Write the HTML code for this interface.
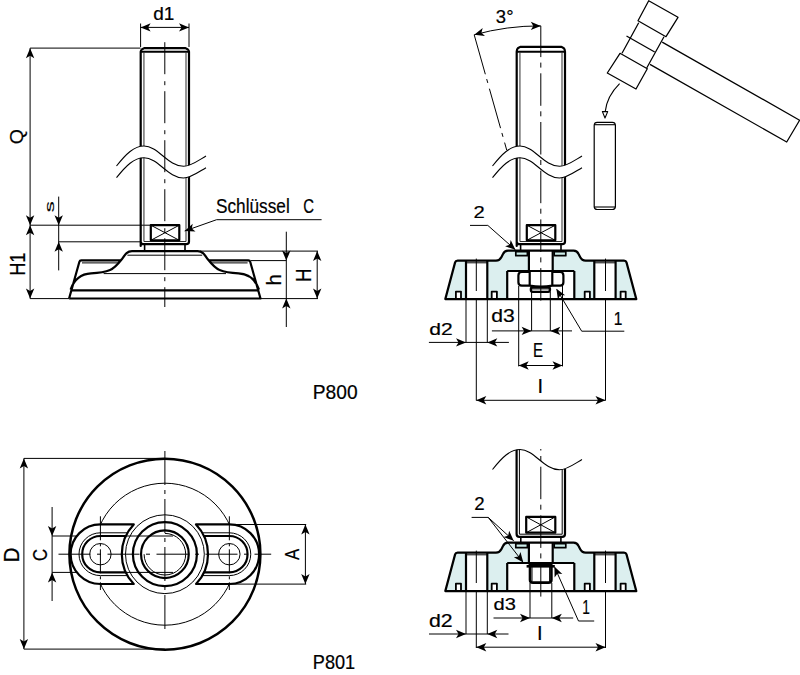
<!DOCTYPE html>
<html><head><meta charset="utf-8"><style>
html,body{margin:0;padding:0;background:#fff;}
svg{display:block;}
text{font-family:"Liberation Sans",sans-serif;fill:#000;stroke:#000;stroke-width:0.22px;}
</style></head><body>
<svg width="800" height="675" viewBox="0 0 800 675" stroke-linecap="butt" stroke-linejoin="round">
<line x1="140.60" y1="23.50" x2="140.60" y2="47.00" stroke="#000" stroke-width="1.0" />
<line x1="189.00" y1="23.50" x2="189.00" y2="47.00" stroke="#000" stroke-width="1.0" />
<line x1="140.60" y1="27.40" x2="189.00" y2="27.40" stroke="#000" stroke-width="1.0" />
<polygon points="140.60,27.40 150.60,23.20 148.10,27.40 150.60,31.60" fill="#000"/>
<polygon points="189.00,27.40 179.00,31.60 181.50,27.40 179.00,23.20" fill="#000"/>
<text transform="translate(153.24,19.81) scale(0.9510,0.9388)" font-size="20">d1</text>
<line x1="30.10" y1="48.10" x2="140.60" y2="48.10" stroke="#000" stroke-width="1.0" />
<line x1="30.10" y1="48.10" x2="30.10" y2="298.60" stroke="#000" stroke-width="1.0" />
<polygon points="30.10,48.30 34.30,58.30 30.10,55.80 25.90,58.30" fill="#000"/>
<polygon points="30.10,225.20 25.90,215.20 30.10,217.70 34.30,215.20" fill="#000"/>
<polygon points="30.10,225.20 34.30,235.20 30.10,232.70 25.90,235.20" fill="#000"/>
<polygon points="30.10,298.60 25.90,288.60 30.10,291.10 34.30,288.60" fill="#000"/>
<text transform="translate(22.81,144.28) rotate(-90) scale(0.9781,0.8933)" font-size="20">Q</text>
<text transform="translate(25.00,275.85) rotate(-90) scale(0.9083,1.0652)" font-size="20">H1</text>
<line x1="30.10" y1="225.20" x2="150.80" y2="225.20" stroke="#000" stroke-width="1.0" />
<line x1="30.10" y1="298.60" x2="69.30" y2="298.60" stroke="#000" stroke-width="1.0" />
<line x1="58.70" y1="196.60" x2="58.70" y2="270.40" stroke="#000" stroke-width="1.0" />
<polygon points="58.70,225.20 54.50,215.20 58.70,217.70 62.90,215.20" fill="#000"/>
<polygon points="58.70,241.80 62.90,251.80 58.70,249.30 54.50,251.80" fill="#000"/>
<line x1="58.70" y1="241.80" x2="140.60" y2="241.80" stroke="#000" stroke-width="1.0" />
<text transform="translate(53.87,212.16) rotate(-90) scale(1.1034,0.6606)" font-size="20">s</text>
<g transform="translate(0,0)">
<path d="M140.7,246 L140.7,51.6 Q140.9,50.20 141.8,49.50 L144.2,48.10 L185.5,48.10 L187.9,49.50 Q188.8,50.20 189,51.6 L189,241.5 Q189,244.2 186.2,244.2 L143.5,244.2 Q140.7,244.2 140.7,241.5 Z" fill="none" stroke="#000" stroke-width="2.2" />
<line x1="140.70" y1="51.70" x2="189.00" y2="51.70" stroke="#000" stroke-width="2.0" />
<path d="M143.95,241.5 L143.95,52.5 M186.0,52.5 L186.0,241.5 M143.95,241.5 L186.0,241.5" fill="none" stroke="#222" stroke-width="0.95" />
<path d="M116.5,166 C126,154 134,146 144,146 C158,146 168,166.3 183.5,166.3 C191,166.3 199,160 206,156 L206,167.7 C199,171.7 191,178 183.5,178 C168,178 158,157.7 144,157.7 C134,157.7 126,165.7 116.5,177.7 Z" fill="#fff" stroke="none" stroke-width="0" />
<path d="M116.5,166 C126,154 134,146 144,146 C158,146 168,166.3 183.5,166.3 C191,166.3 199,160 206,156" fill="none" stroke="#000" stroke-width="1.1" />
<path d="M116.5,177.7 C126,165.7 134,157.7 144,157.7 C158,157.7 168,178 183.5,178 C191,178 199,171.7 206,167.7" fill="none" stroke="#000" stroke-width="1.1" />
<rect x="150.8" y="225.2" width="28.5" height="15.1" fill="#fff" stroke="#000" stroke-width="2.2"/>
<line x1="150.80" y1="225.20" x2="179.30" y2="240.30" stroke="#000" stroke-width="1.0" />
<line x1="150.80" y1="240.30" x2="179.30" y2="225.20" stroke="#000" stroke-width="1.0" />
<line x1="144.60" y1="244.00" x2="144.60" y2="251.00" stroke="#000" stroke-width="1.6" />
<line x1="185.00" y1="244.00" x2="185.00" y2="251.00" stroke="#000" stroke-width="1.6" />
</g>
<line x1="216.60" y1="219.70" x2="321.60" y2="219.70" stroke="#000" stroke-width="1.0" />
<line x1="216.60" y1="219.70" x2="184.70" y2="231.00" stroke="#000" stroke-width="1.0" />
<polygon points="184.70,231.00 192.72,223.70 191.77,228.50 195.53,231.62" fill="#000"/>
<text transform="translate(216.03,213.00) scale(0.8609,1.0000)" font-size="20">Schlüssel</text>
<text transform="translate(303.25,212.99) scale(0.7460,1.0352)" font-size="20">C</text>
<path d="M69.1,298.5 L79.4,261.8 Q79.8,260.4 81.2,260.4 L120.7,260.4 M70.6,289.5 C74,280 80,274 91,273.4 C98,273 104,272.5 110,270 C115,268 118,264 122,259 C125,254.7 127,251.2 132,251.2 L197.6,251.2 C202.6,251.2 204.6,254.7 207.6,259 C211.6,264 214.6,268 219.6,270 C225.6,272.5 231.6,273 238.6,273.4 C249.6,274 255.6,280 259,289.5 M209,260.4 L248.4,260.4 Q249.8,260.4 250.2,261.8 L260.5,298.5 L69.1,298.5" fill="none" stroke="#000" stroke-width="2.2" />
<line x1="71.50" y1="290.30" x2="258.10" y2="290.30" stroke="#000" stroke-width="2.2" />
<line x1="82.00" y1="262.90" x2="118.50" y2="262.90" stroke="#000" stroke-width="1.0" />
<line x1="211.20" y1="262.90" x2="247.60" y2="262.90" stroke="#000" stroke-width="1.0" />
<line x1="103.60" y1="273.60" x2="226.00" y2="273.60" stroke="#000" stroke-width="1.0" />
<line x1="127.40" y1="255.20" x2="202.20" y2="255.20" stroke="#000" stroke-width="1.0" />
<line x1="164.80" y1="42.20" x2="164.80" y2="307.00" stroke="#000" stroke-width="1.0" stroke-dasharray="32 7 4 6" stroke-dashoffset="0"/>
<line x1="286.30" y1="231.70" x2="286.30" y2="327.00" stroke="#000" stroke-width="1.0" />
<polygon points="286.30,260.60 282.10,250.60 286.30,253.10 290.50,250.60" fill="#000"/>
<polygon points="286.30,298.60 290.50,308.60 286.30,306.10 282.10,308.60" fill="#000"/>
<line x1="200.00" y1="251.10" x2="318.00" y2="251.10" stroke="#000" stroke-width="1.0" />
<line x1="250.70" y1="260.60" x2="286.30" y2="260.60" stroke="#000" stroke-width="1.0" />
<line x1="260.70" y1="298.60" x2="318.00" y2="298.60" stroke="#000" stroke-width="1.0" />
<line x1="317.20" y1="251.10" x2="317.20" y2="298.60" stroke="#000" stroke-width="1.0" />
<polygon points="317.20,251.10 321.40,261.10 317.20,258.60 313.00,261.10" fill="#000"/>
<polygon points="317.20,298.60 313.00,288.60 317.20,291.10 321.40,288.60" fill="#000"/>
<text transform="translate(280.80,285.52) rotate(-90) scale(1.0119,1.0276)" font-size="20">h</text>
<text transform="translate(311.40,282.00) rotate(-90) scale(0.9375,1.0797)" font-size="20">H</text>
<text transform="translate(312.77,398.80) scale(0.9594,1.0000)" font-size="20">P800</text>
<g transform="translate(376,0)">
<path d="M140.7,246 L140.7,51.6 Q140.9,49.00 141.8,48.30 L144.2,46.90 L185.5,46.90 L187.9,48.30 Q188.8,49.00 189,51.6 L189,241.5 Q189,244.2 186.2,244.2 L143.5,244.2 Q140.7,244.2 140.7,241.5 Z" fill="none" stroke="#000" stroke-width="2.2" />
<line x1="140.70" y1="51.70" x2="189.00" y2="51.70" stroke="#000" stroke-width="2.0" />
<path d="M143.95,241.5 L143.95,52.5 M186.0,52.5 L186.0,241.5 M143.95,241.5 L186.0,241.5" fill="none" stroke="#222" stroke-width="0.95" />
<path d="M116.5,166 C126,154 134,146 144,146 C158,146 168,166.3 183.5,166.3 C191,166.3 199,160 206,156 L206,167.7 C199,171.7 191,178 183.5,178 C168,178 158,157.7 144,157.7 C134,157.7 126,165.7 116.5,177.7 Z" fill="#fff" stroke="none" stroke-width="0" />
<path d="M116.5,166 C126,154 134,146 144,146 C158,146 168,166.3 183.5,166.3 C191,166.3 199,160 206,156" fill="none" stroke="#000" stroke-width="1.1" />
<path d="M116.5,177.7 C126,165.7 134,157.7 144,157.7 C158,157.7 168,178 183.5,178 C191,178 199,171.7 206,167.7" fill="none" stroke="#000" stroke-width="1.1" />
<rect x="150.8" y="225.2" width="28.5" height="15.1" fill="#fff" stroke="#000" stroke-width="2.2"/>
<line x1="150.80" y1="225.20" x2="179.30" y2="240.30" stroke="#000" stroke-width="1.0" />
<line x1="150.80" y1="240.30" x2="179.30" y2="225.20" stroke="#000" stroke-width="1.0" />
<line x1="144.60" y1="244.00" x2="144.60" y2="251.00" stroke="#000" stroke-width="1.6" />
<line x1="185.00" y1="244.00" x2="185.00" y2="251.00" stroke="#000" stroke-width="1.6" />
</g>
<g transform="translate(0,0)">
<path d="M445.3,299.1 L455.1,262.4 Q455.6,260.6 457.6,260.6 L496,260.6 C499,260.6 500.5,259 501.5,257 L503,254 C504,251.8 505.5,250.7 508,250.7 L573.6,250.7 C576.1,250.7 577.6,251.8 578.6,254 L580.1,257 C581.1,259 582.6,260.6 585.6,260.6 L624,260.6 Q626,260.6 626.5,262.4 L636.3,299.1 Z" fill="#dcefef" stroke="none"/>
<rect x="466" y="260.6" width="21.3" height="38.5" fill="#fff"/>
<rect x="594.3" y="260.6" width="21.3" height="38.5" fill="#fff"/>
<rect x="455.9" y="291.6" width="5.1" height="7.5" fill="#fff"/>
<rect x="491.7" y="291.6" width="5.2" height="7.5" fill="#fff"/>
<rect x="584.7" y="291.6" width="5.2" height="7.5" fill="#fff"/>
<rect x="620.6" y="291.6" width="5.1" height="7.5" fill="#fff"/>
<rect x="507.2" y="271" width="67.1" height="28.1" fill="#fff"/>
<rect x="528.9" y="250.7" width="23.8" height="20.3" fill="#fff"/>
<path d="M445.3,299.1 L455.1,262.4 Q455.6,260.6 457.6,260.6 L496,260.6 C499,260.6 500.5,259 501.5,257 L503,254 C504,251.8 505.5,250.7 508,250.7 L573.6,250.7 C576.1,250.7 577.6,251.8 578.6,254 L580.1,257 C581.1,259 582.6,260.6 585.6,260.6 L624,260.6 Q626,260.6 626.5,262.4 L636.3,299.1 Z" fill="none" stroke="#000" stroke-width="2.2" />
<line x1="466.00" y1="260.60" x2="466.00" y2="299.10" stroke="#000" stroke-width="2.2" />
<line x1="487.30" y1="260.60" x2="487.30" y2="299.10" stroke="#000" stroke-width="2.2" />
<line x1="466.00" y1="262.80" x2="487.30" y2="262.80" stroke="#000" stroke-width="1.0" />
<line x1="594.30" y1="260.60" x2="594.30" y2="299.10" stroke="#000" stroke-width="2.2" />
<line x1="615.60" y1="260.60" x2="615.60" y2="299.10" stroke="#000" stroke-width="2.2" />
<line x1="594.30" y1="262.80" x2="615.60" y2="262.80" stroke="#000" stroke-width="1.0" />
<path d="M455.9,299.1 L455.9,291.6 L461,291.6 L461,299.1" fill="none" stroke="#000" stroke-width="1.8" />
<path d="M491.7,299.1 L491.7,291.6 L496.9,291.6 L496.9,299.1" fill="none" stroke="#000" stroke-width="1.8" />
<path d="M584.7,299.1 L584.7,291.6 L589.9,291.6 L589.9,299.1" fill="none" stroke="#000" stroke-width="1.8" />
<path d="M620.6,299.1 L620.6,291.6 L625.7,291.6 L625.7,299.1" fill="none" stroke="#000" stroke-width="1.8" />
<line x1="507.20" y1="271.00" x2="507.20" y2="299.10" stroke="#000" stroke-width="2.2" />
<line x1="574.30" y1="271.00" x2="574.30" y2="299.10" stroke="#000" stroke-width="2.2" />
<line x1="507.20" y1="271.00" x2="574.30" y2="271.00" stroke="#000" stroke-width="2.2" />
<line x1="528.90" y1="250.70" x2="528.90" y2="271.00" stroke="#000" stroke-width="2.2" />
<line x1="552.70" y1="250.70" x2="552.70" y2="271.00" stroke="#000" stroke-width="2.2" />
<rect x="515.8" y="251.6" width="11.6" height="4.1" fill="#cdeeea" stroke="#000" stroke-width="1.7"/>
<rect x="554.2" y="251.6" width="11.6" height="4.1" fill="#cdeeea" stroke="#000" stroke-width="1.7"/>
</g>
<path d="M529.7,272 L521.8,272 Q518.4,272 518.4,275.5 L518.4,282.3 Q518.4,285.6 521.8,285.6 L529.7,285.6 M552.3,272 L560.1,272 Q563.4,272 563.4,275.5 L563.4,282.3 Q563.4,285.6 560.1,285.6 L552.3,285.6 M529.7,272 L529.7,285.6 M552.3,272 L552.3,285.6 M529.7,285.6 Q541,287.8 552.3,285.6" fill="none" stroke="#000" stroke-width="2.2" />
<rect x="530.9" y="287.3" width="19" height="4.6" rx="1.8" fill="#fff" stroke="#000" stroke-width="2.4"/>
<line x1="532.00" y1="288.90" x2="549.50" y2="288.90" stroke="#000" stroke-width="1.0" />
<line x1="540.80" y1="25.90" x2="540.80" y2="302.50" stroke="#000" stroke-width="1.0" stroke-dasharray="32.5 5.5 5 5.7" stroke-dashoffset="1.3"/>
<path d="M474.2,34.8 L506.7,150" fill="none" stroke="#000" stroke-width="1.0" stroke-dasharray="41 5 4 6"/>
<path d="M474.2,34.8 A244 244 0 0 1 540.8,25.9" fill="none" stroke="#000" stroke-width="1.0" />
<polygon points="474.20,34.80 482.67,28.03 481.42,32.75 484.97,36.11" fill="#000"/>
<polygon points="540.80,25.90 530.80,30.10 533.30,25.90 530.80,21.70" fill="#000"/>
<text transform="translate(495.86,22.61) scale(0.9240,0.9577)" font-size="20">3°</text>
<line x1="470.00" y1="225.40" x2="487.80" y2="225.40" stroke="#000" stroke-width="1.0" />
<line x1="487.80" y1="225.40" x2="515.40" y2="249.80" stroke="#000" stroke-width="1.0" />
<polygon points="515.40,249.80 505.13,246.32 509.78,244.83 510.69,240.03" fill="#000"/>
<text transform="translate(473.59,217.80) scale(1.0110,0.8643)" font-size="20">2</text>
<path d="M556.8,289.5 L581.7,331.2 L624.3,331.2" fill="none" stroke="#000" stroke-width="1.0" />
<polygon points="556.40,288.80 565.12,295.24 560.24,295.24 557.91,299.54" fill="#000"/>
<text transform="translate(613.63,325.30) scale(0.7791,0.9275)" font-size="20">1</text>
<line x1="466.00" y1="299.00" x2="466.00" y2="342.40" stroke="#000" stroke-width="1.0" />
<line x1="487.30" y1="299.00" x2="487.30" y2="342.40" stroke="#000" stroke-width="1.0" />
<line x1="428.90" y1="342.40" x2="508.90" y2="342.40" stroke="#000" stroke-width="1.0" />
<polygon points="466.00,342.40 456.00,346.60 458.50,342.40 456.00,338.20" fill="#000"/>
<polygon points="487.30,342.40 497.30,338.20 494.80,342.40 497.30,346.60" fill="#000"/>
<text transform="translate(429.36,334.63) scale(1.0539,0.8707)" font-size="20">d2</text>
<line x1="476.30" y1="258.60" x2="476.30" y2="291.00" stroke="#000" stroke-width="1.0" />
<line x1="605.50" y1="258.60" x2="605.50" y2="291.00" stroke="#000" stroke-width="1.0" />
<line x1="476.30" y1="299.00" x2="476.30" y2="400.50" stroke="#000" stroke-width="1.0" />
<line x1="605.50" y1="299.00" x2="605.50" y2="400.50" stroke="#000" stroke-width="1.0" />
<line x1="476.30" y1="400.30" x2="605.50" y2="400.30" stroke="#000" stroke-width="1.0" />
<polygon points="476.30,400.30 486.30,396.10 483.80,400.30 486.30,404.50" fill="#000"/>
<polygon points="605.50,400.30 595.50,404.50 598.00,400.30 595.50,396.10" fill="#000"/>
<text transform="translate(537.55,392.80) scale(1.0000,1.0000)" font-size="20">I</text>
<line x1="531.60" y1="291.70" x2="531.60" y2="330.90" stroke="#000" stroke-width="1.0" />
<line x1="550.30" y1="291.70" x2="550.30" y2="330.90" stroke="#000" stroke-width="1.0" />
<line x1="491.90" y1="330.90" x2="572.00" y2="330.90" stroke="#000" stroke-width="1.0" />
<polygon points="531.60,330.90 521.60,335.10 524.10,330.90 521.60,326.70" fill="#000"/>
<polygon points="550.30,330.90 560.30,326.70 557.80,330.90 560.30,335.10" fill="#000"/>
<text transform="translate(491.25,322.02) scale(1.0585,0.8776)" font-size="20">d3</text>
<line x1="518.70" y1="286.00" x2="518.70" y2="366.40" stroke="#000" stroke-width="1.0" />
<line x1="562.50" y1="286.00" x2="562.50" y2="366.40" stroke="#000" stroke-width="1.0" />
<line x1="518.70" y1="365.50" x2="562.50" y2="365.50" stroke="#000" stroke-width="1.0" />
<polygon points="518.70,365.50 528.70,361.30 526.20,365.50 528.70,369.70" fill="#000"/>
<polygon points="562.50,365.50 552.50,369.70 555.00,365.50 552.50,361.30" fill="#000"/>
<text transform="translate(533.00,357.30) scale(0.7523,0.9928)" font-size="20">E</text>
<polygon points="648.7,0.7 678,17.3 666,36.7 638,20.7" fill="#fff" stroke="#000" stroke-width="1.25"/>
<path d="M638.7,22.7 L622,53.3 M664,36.7 L646.7,68" fill="none" stroke="#000" stroke-width="1.25" />
<path d="M626.5,36 L654.7,52" fill="none" stroke="#000" stroke-width="1.25" />
<polygon points="620,53.3 647.3,68.7 636,89 607.3,73" fill="#fff" stroke="#000" stroke-width="1.25"/>
<path d="M662.2,42.1 L799.6,120.2 L786.7,142 L650,64.4" fill="none" stroke="#000" stroke-width="1.25" />
<path d="M594.2,125.3 Q594.4,122.4 597.2,122.4 L612.4,122.4 Q615.2,122.4 615.4,125.3 L615.4,206.6 Q615.2,209.5 612.4,209.5 L597.2,209.5 Q594.4,209.5 594.2,206.6 Z" fill="#fff" stroke="#000" stroke-width="1.2" />
<line x1="594.50" y1="124.70" x2="615.10" y2="124.70" stroke="#000" stroke-width="1.1" />
<line x1="594.50" y1="207.00" x2="615.10" y2="207.00" stroke="#000" stroke-width="1.1" />
<path d="M619.6,83.6 Q607,96 605.2,111.6" fill="none" stroke="#000" stroke-width="1.1" />
<polygon points="602.4,111.6 607.7,111.6 605.0,118.0" fill="#fff" stroke="#000" stroke-width="1.1"/>
<line x1="23.90" y1="458.40" x2="164.90" y2="458.40" stroke="#000" stroke-width="1.0" />
<line x1="23.90" y1="649.10" x2="164.90" y2="649.10" stroke="#000" stroke-width="1.0" />
<line x1="23.90" y1="458.40" x2="23.90" y2="649.10" stroke="#000" stroke-width="1.0" />
<polygon points="23.90,458.40 28.10,468.40 23.90,465.90 19.70,468.40" fill="#000"/>
<polygon points="23.90,649.10 19.70,639.10 23.90,641.60 28.10,639.10" fill="#000"/>
<text transform="translate(19.00,562.45) rotate(-90) scale(1.0336,1.0870)" font-size="20">D</text>
<line x1="52.10" y1="507.00" x2="52.10" y2="601.00" stroke="#000" stroke-width="1.0" />
<polygon points="52.10,536.00 47.90,526.00 52.10,528.50 56.30,526.00" fill="#000"/>
<polygon points="52.10,572.40 56.30,582.40 52.10,579.90 47.90,582.40" fill="#000"/>
<line x1="52.10" y1="536.00" x2="125.00" y2="536.00" stroke="#000" stroke-width="1.0" />
<line x1="52.10" y1="572.40" x2="125.00" y2="572.40" stroke="#000" stroke-width="1.0" />
<text transform="translate(46.89,560.93) rotate(-90) scale(0.8333,1.0493)" font-size="20">C</text>
<line x1="229.00" y1="524.50" x2="306.20" y2="524.50" stroke="#000" stroke-width="1.0" />
<line x1="229.00" y1="584.10" x2="306.20" y2="584.10" stroke="#000" stroke-width="1.0" />
<line x1="305.40" y1="524.50" x2="305.40" y2="584.10" stroke="#000" stroke-width="1.0" />
<polygon points="305.40,524.50 309.60,534.50 305.40,532.00 301.20,534.50" fill="#000"/>
<polygon points="305.40,584.10 301.20,574.10 305.40,576.60 309.60,574.10" fill="#000"/>
<text transform="translate(299.00,559.98) rotate(-90) scale(0.8409,0.9928)" font-size="20">A</text>
<text transform="translate(312.85,669.00) scale(0.9070,1.0141)" font-size="20">P801</text>
<circle cx="164.9" cy="554.2" r="95.5" fill="none" stroke="#000" stroke-width="2.5"/>
<circle cx="164.9" cy="554.2" r="71" fill="none" stroke="#000" stroke-width="1.0"/>
<path d="M133.76,524.40 L100.40,524.40 A29.8 29.8 0 0 0 100.40,584.00 L133.76,584.00 A43.1 43.1 0 0 1 133.76,524.40 Z" fill="#fff" stroke="#000" stroke-width="2.2"/>
<path d="M127.49,532.80 L100.40,532.80 A21.4 21.4 0 0 0 100.40,575.60 L127.49,575.60" fill="none" stroke="#000" stroke-width="1.0" />
<path d="M125.83,536.00 L100.40,536.00 A18.2 18.2 0 0 0 100.40,572.40 L125.83,572.40" fill="none" stroke="#000" stroke-width="2.2" />
<circle cx="100.4" cy="554.2" r="10.7" fill="none" stroke="#000" stroke-width="1.0"/>
<line x1="100.40" y1="516.30" x2="100.40" y2="590.00" stroke="#000" stroke-width="1.0" stroke-dasharray="24 3 3 3" stroke-dashoffset="0"/>
<path d="M196.04,524.40 L229.35,524.40 A29.8 29.8 0 0 1 229.35,584.00 L196.04,584.00 A43.1 43.1 0 0 0 196.04,524.40 Z" fill="#fff" stroke="#000" stroke-width="2.2"/>
<path d="M202.31,532.80 L229.35,532.80 A21.4 21.4 0 0 1 229.35,575.60 L202.31,575.60" fill="none" stroke="#000" stroke-width="1.0" />
<path d="M203.97,536.00 L229.35,536.00 A18.2 18.2 0 0 1 229.35,572.40 L203.97,572.40" fill="none" stroke="#000" stroke-width="2.2" />
<circle cx="229.35" cy="554.2" r="10.7" fill="none" stroke="#000" stroke-width="1.0"/>
<line x1="229.35" y1="516.30" x2="229.35" y2="590.00" stroke="#000" stroke-width="1.0" stroke-dasharray="24 3 3 3" stroke-dashoffset="0"/>
<circle cx="164.9" cy="554.2" r="39.4" fill="none" stroke="#000" stroke-width="1.0"/>
<circle cx="164.9" cy="554.2" r="32.0" fill="none" stroke="#000" stroke-width="2.2"/>
<circle cx="164.9" cy="554.2" r="23.85" fill="none" stroke="#000" stroke-width="2.2"/>
<path d="M164.9,533.4000000000001 A20.8 20.8 0 1 1 144.1,554.2" fill="none" stroke="#000" stroke-width="1.0" />
<line x1="125.00" y1="536.00" x2="173.00" y2="536.00" stroke="#000" stroke-width="1.0" />
<line x1="125.00" y1="572.40" x2="173.00" y2="572.40" stroke="#000" stroke-width="1.0" />
<line x1="58.50" y1="554.20" x2="271.20" y2="554.20" stroke="#000" stroke-width="1.0" stroke-dasharray="32 6.5 4 6.5" stroke-dashoffset="0"/>
<line x1="164.90" y1="451.00" x2="164.90" y2="632.00" stroke="#000" stroke-width="1.0" stroke-dasharray="34 5 4 5" stroke-dashoffset="0"/>
<g transform="translate(0,292)">
<path d="M445.3,299.1 L455.1,262.4 Q455.6,260.6 457.6,260.6 L496,260.6 C499,260.6 500.5,259 501.5,257 L503,254 C504,251.8 505.5,250.7 508,250.7 L573.6,250.7 C576.1,250.7 577.6,251.8 578.6,254 L580.1,257 C581.1,259 582.6,260.6 585.6,260.6 L624,260.6 Q626,260.6 626.5,262.4 L636.3,299.1 Z" fill="#dcefef" stroke="none"/>
<rect x="466" y="260.6" width="21.3" height="38.5" fill="#fff"/>
<rect x="594.3" y="260.6" width="21.3" height="38.5" fill="#fff"/>
<rect x="455.9" y="291.6" width="5.1" height="7.5" fill="#fff"/>
<rect x="491.7" y="291.6" width="5.2" height="7.5" fill="#fff"/>
<rect x="584.7" y="291.6" width="5.2" height="7.5" fill="#fff"/>
<rect x="620.6" y="291.6" width="5.1" height="7.5" fill="#fff"/>
<rect x="507.2" y="271" width="67.1" height="28.1" fill="#fff"/>
<rect x="528.9" y="250.7" width="23.8" height="20.3" fill="#fff"/>
<path d="M445.3,299.1 L455.1,262.4 Q455.6,260.6 457.6,260.6 L496,260.6 C499,260.6 500.5,259 501.5,257 L503,254 C504,251.8 505.5,250.7 508,250.7 L573.6,250.7 C576.1,250.7 577.6,251.8 578.6,254 L580.1,257 C581.1,259 582.6,260.6 585.6,260.6 L624,260.6 Q626,260.6 626.5,262.4 L636.3,299.1 Z" fill="none" stroke="#000" stroke-width="2.2" />
<line x1="466.00" y1="260.60" x2="466.00" y2="299.10" stroke="#000" stroke-width="2.2" />
<line x1="487.30" y1="260.60" x2="487.30" y2="299.10" stroke="#000" stroke-width="2.2" />
<line x1="466.00" y1="262.80" x2="487.30" y2="262.80" stroke="#000" stroke-width="1.0" />
<line x1="594.30" y1="260.60" x2="594.30" y2="299.10" stroke="#000" stroke-width="2.2" />
<line x1="615.60" y1="260.60" x2="615.60" y2="299.10" stroke="#000" stroke-width="2.2" />
<line x1="594.30" y1="262.80" x2="615.60" y2="262.80" stroke="#000" stroke-width="1.0" />
<path d="M455.9,299.1 L455.9,291.6 L461,291.6 L461,299.1" fill="none" stroke="#000" stroke-width="1.8" />
<path d="M491.7,299.1 L491.7,291.6 L496.9,291.6 L496.9,299.1" fill="none" stroke="#000" stroke-width="1.8" />
<path d="M584.7,299.1 L584.7,291.6 L589.9,291.6 L589.9,299.1" fill="none" stroke="#000" stroke-width="1.8" />
<path d="M620.6,299.1 L620.6,291.6 L625.7,291.6 L625.7,299.1" fill="none" stroke="#000" stroke-width="1.8" />
<line x1="507.20" y1="271.00" x2="507.20" y2="299.10" stroke="#000" stroke-width="2.2" />
<line x1="574.30" y1="271.00" x2="574.30" y2="299.10" stroke="#000" stroke-width="2.2" />
<line x1="507.20" y1="271.00" x2="574.30" y2="271.00" stroke="#000" stroke-width="2.2" />
<line x1="528.90" y1="250.70" x2="528.90" y2="271.00" stroke="#000" stroke-width="2.2" />
<line x1="552.70" y1="250.70" x2="552.70" y2="271.00" stroke="#000" stroke-width="2.2" />
<rect x="515.8" y="251.6" width="11.6" height="4.1" fill="#cdeeea" stroke="#000" stroke-width="1.7"/>
<rect x="554.2" y="251.6" width="11.6" height="4.1" fill="#cdeeea" stroke="#000" stroke-width="1.7"/>
</g>
<path d="M516.6,445 L516.6,534 Q516.6,536.9 519.4,536.9 L562.2,536.9 Q565,536.9 565,534 L565,445" fill="none" stroke="#000" stroke-width="2.2" />
<path d="M519.4,445 L519.4,534.2 L562.2,534.2 L562.2,445" fill="none" stroke="#000" stroke-width="1.0" />
<path d="M492.5,469.5 C502,457.5 510,449.5 520,449.5 C534,449.5 544,469.8 559.5,469.8 C567,469.8 575,463.5 582,459.5 L582,440 L492.5,440 Z" fill="#fff" stroke="none" stroke-width="0" />
<path d="M492.5,469.5 C502,457.5 510,449.5 520,449.5 C534,449.5 544,469.8 559.5,469.8 C567,469.8 575,463.5 582,459.5" fill="none" stroke="#000" stroke-width="1.1" />
<rect x="526.2" y="516.9" width="29.1" height="15.8" fill="#fff" stroke="#000" stroke-width="2.2"/>
<line x1="526.20" y1="516.90" x2="555.30" y2="532.70" stroke="#000" stroke-width="1.0" />
<line x1="526.20" y1="532.70" x2="555.30" y2="516.90" stroke="#000" stroke-width="1.0" />
<line x1="520.80" y1="537.00" x2="520.80" y2="542.80" stroke="#000" stroke-width="1.6" />
<line x1="560.90" y1="537.00" x2="560.90" y2="542.80" stroke="#000" stroke-width="1.6" />
<line x1="528.60" y1="563.20" x2="552.50" y2="563.20" stroke="#000" stroke-width="2.2" />
<line x1="528.60" y1="564.50" x2="552.50" y2="564.50" stroke="#000" stroke-width="1.0" />
<path d="M526.6,566.3 L554.8,566.3" fill="none" stroke="#000" stroke-width="2.6" />
<path d="M530,566 L530,580 Q530,582.6 533,582.6 L548.4,582.6 Q551.4,582.6 551.4,580 L551.4,566" fill="none" stroke="#000" stroke-width="2.6" />
<line x1="532.00" y1="567.00" x2="532.00" y2="581.00" stroke="#000" stroke-width="1.0" />
<line x1="549.60" y1="567.00" x2="549.60" y2="581.00" stroke="#000" stroke-width="1.0" />
<line x1="540.80" y1="449.00" x2="540.80" y2="597.00" stroke="#000" stroke-width="1.0" stroke-dasharray="32.5 5.5 5 5.7" stroke-dashoffset="31"/>
<path d="M471.6,517.4 L488.2,517.4 L513.7,540.7 M488.2,517.4 L523.3,562.5" fill="none" stroke="#000" stroke-width="1.0" />
<polygon points="513.70,540.70 503.48,537.06 508.16,535.64 509.15,530.85" fill="#000"/>
<polygon points="523.30,562.50 513.84,557.19 518.69,556.58 520.47,552.03" fill="#000"/>
<text transform="translate(474.37,509.70) scale(0.9341,0.9357)" font-size="20">2</text>
<path d="M554.8,567.5 L578.5,621 L594.2,621" fill="none" stroke="#000" stroke-width="1.0" />
<polygon points="554.40,566.60 562.29,574.04 557.44,573.46 554.61,577.44" fill="#000"/>
<text transform="translate(582.17,614.00) scale(0.6860,0.9928)" font-size="20">1</text>
<line x1="466.00" y1="591.00" x2="466.00" y2="634.00" stroke="#000" stroke-width="1.0" />
<line x1="487.30" y1="591.00" x2="487.30" y2="634.00" stroke="#000" stroke-width="1.0" />
<line x1="429.00" y1="634.00" x2="508.50" y2="634.00" stroke="#000" stroke-width="1.0" />
<polygon points="466.00,634.00 456.00,638.20 458.50,634.00 456.00,629.80" fill="#000"/>
<polygon points="487.30,634.00 497.30,629.80 494.80,634.00 497.30,638.20" fill="#000"/>
<text transform="translate(429.05,626.61) scale(1.0637,0.9388)" font-size="20">d2</text>
<line x1="476.30" y1="550.60" x2="476.30" y2="583.00" stroke="#000" stroke-width="1.0" />
<line x1="605.50" y1="550.60" x2="605.50" y2="583.00" stroke="#000" stroke-width="1.0" />
<line x1="476.30" y1="591.00" x2="476.30" y2="648.00" stroke="#000" stroke-width="1.0" />
<line x1="605.50" y1="591.00" x2="605.50" y2="648.00" stroke="#000" stroke-width="1.0" />
<line x1="476.30" y1="647.20" x2="605.50" y2="647.20" stroke="#000" stroke-width="1.0" />
<polygon points="476.30,647.20 486.30,643.00 483.80,647.20 486.30,651.40" fill="#000"/>
<polygon points="605.50,647.20 595.50,651.40 598.00,647.20 595.50,643.00" fill="#000"/>
<text transform="translate(537.10,640.30) scale(1.0000,1.0000)" font-size="20">I</text>
<line x1="530.00" y1="583.00" x2="530.00" y2="618.00" stroke="#000" stroke-width="1.0" />
<line x1="551.80" y1="583.00" x2="551.80" y2="618.00" stroke="#000" stroke-width="1.0" />
<line x1="493.50" y1="618.00" x2="573.20" y2="618.00" stroke="#000" stroke-width="1.0" />
<polygon points="530.00,618.00 520.00,622.20 522.50,618.00 520.00,613.80" fill="#000"/>
<polygon points="551.80,618.00 561.80,613.80 559.30,618.00 561.80,622.20" fill="#000"/>
<text transform="translate(493.60,610.13) scale(1.0049,0.8367)" font-size="20">d3</text>
</svg>
</body></html>
